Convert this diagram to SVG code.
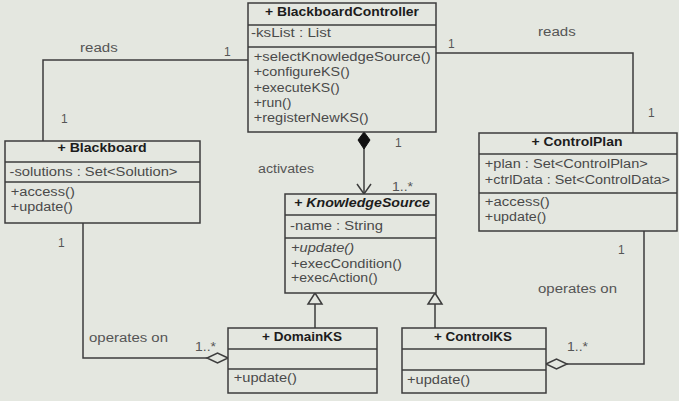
<svg xmlns="http://www.w3.org/2000/svg" width="679" height="401" viewBox="0 0 679 401">
<style>
  .box{fill:#e4e7e0;stroke:#3c3c3c;stroke-width:1.5}
  .sep{stroke:#3c3c3c;stroke-width:1.5}
  text{font-family:"Liberation Sans",Arial,sans-serif;font-size:12px;fill:#4a4a4a}
  .hd{font-weight:bold;fill:#1c1c1c;text-anchor:middle}
  .it{font-style:italic}
  .lbl{fill:#555}
  .con{fill:none;stroke:#3c3c3c;stroke-width:1.5}
</style>
<rect x="0" y="0" width="679" height="401" fill="#e4e7e0"/>

<g id="connectors">
  <!-- reads left -->
  <polyline class="con" points="248,60 43,60 43,141"/>
  <!-- reads right -->
  <polyline class="con" points="436,53 633,53 633,133"/>
  <!-- composition activates -->
  <line class="con" x1="364" y1="148" x2="364" y2="194"/>
  <polygon points="364,132 370,140 364,149 358,140" fill="#111" stroke="#111" stroke-width="1"/>
  <polyline class="con" points="357,184 364,194 371,184"/>
  <!-- generalizations -->
  <line class="con" x1="315" y1="304" x2="315" y2="328"/>
  <polygon class="con" points="315,293 322,304 308,304"/>
  <line class="con" x1="435" y1="304" x2="435" y2="328"/>
  <polygon class="con" points="435,293 442,304 428,304"/>
  <!-- Blackboard operates on DomainKS -->
  <polyline class="con" points="83,223 83,358 207,358"/>
  <polygon class="con" points="228,358 217.5,353 207,358 217.5,363"/>
  <!-- ControlPlan operates on ControlKS -->
  <polyline class="con" points="644,231 644,364 567,364"/>
  <polygon class="con" points="546,364 556.5,359 567,364 556.5,369"/>
  <!-- labels -->
  <text class="lbl" x="80" y="52" textLength="37.7" lengthAdjust="spacingAndGlyphs">reads</text>
  <text class="lbl" x="538" y="36" textLength="37.7" lengthAdjust="spacingAndGlyphs">reads</text>
  <text class="lbl" x="258" y="173" textLength="56" lengthAdjust="spacingAndGlyphs">activates</text>
  <text class="lbl" x="89" y="342" textLength="79" lengthAdjust="spacingAndGlyphs">operates on</text>
  <text class="lbl" x="538" y="293" textLength="79" lengthAdjust="spacingAndGlyphs">operates on</text>
  <text class="lbl" x="224" y="56">1</text>
  <text class="lbl" x="61" y="123">1</text>
  <text class="lbl" x="448" y="48">1</text>
  <text class="lbl" x="648" y="117">1</text>
  <text class="lbl" x="395" y="147">1</text>
  <text class="lbl" x="58" y="247">1</text>
  <text class="lbl" x="618" y="254">1</text>
  <text class="lbl" x="392" y="191" textLength="21" lengthAdjust="spacingAndGlyphs">1..*</text>
  <text class="lbl" x="195" y="351" textLength="21" lengthAdjust="spacingAndGlyphs">1..*</text>
  <text class="lbl" x="567" y="351" textLength="21" lengthAdjust="spacingAndGlyphs">1..*</text>
</g>

<g id="BlackboardController">
  <rect class="box" x="248" y="3" width="188" height="129"/>
  <line class="sep" x1="248" y1="25" x2="436" y2="25"/>
  <line class="sep" x1="248" y1="47" x2="436" y2="47"/>
  <text class="hd" x="342" y="16" textLength="154" lengthAdjust="spacingAndGlyphs">+ BlackboardController</text>
  <text x="251" y="37" textLength="80" lengthAdjust="spacingAndGlyphs">-ksList : List</text>
  <text x="253.7" y="61" textLength="177" lengthAdjust="spacingAndGlyphs">+selectKnowledgeSource()</text>
  <text x="253.7" y="76" textLength="96" lengthAdjust="spacingAndGlyphs">+configureKS()</text>
  <text x="253.7" y="92" textLength="86" lengthAdjust="spacingAndGlyphs">+executeKS()</text>
  <text x="253.7" y="107" textLength="37.7" lengthAdjust="spacingAndGlyphs">+run()</text>
  <text x="253.7" y="122" textLength="115" lengthAdjust="spacingAndGlyphs">+registerNewKS()</text>
</g>

<g id="Blackboard">
  <rect class="box" x="5" y="141" width="195" height="82"/>
  <line class="sep" x1="5" y1="162" x2="200" y2="162"/>
  <line class="sep" x1="5" y1="182" x2="200" y2="182"/>
  <text class="hd" x="102" y="152" textLength="89" lengthAdjust="spacingAndGlyphs">+ Blackboard</text>
  <text x="9.5" y="176" textLength="168" lengthAdjust="spacingAndGlyphs" fill="#666">-solutions : Set&lt;Solution&gt;</text>
  <text x="10.8" y="196" textLength="64" lengthAdjust="spacingAndGlyphs">+access()</text>
  <text x="10.8" y="211" textLength="62" lengthAdjust="spacingAndGlyphs">+update()</text>
</g>

<g id="ControlPlan">
  <rect class="box" x="479" y="133" width="198" height="98"/>
  <line class="sep" x1="479" y1="154" x2="677" y2="154"/>
  <line class="sep" x1="479" y1="193" x2="677" y2="193"/>
  <text class="hd" x="577" y="146" textLength="91" lengthAdjust="spacingAndGlyphs">+ ControlPlan</text>
  <text x="484.8" y="168" textLength="163" lengthAdjust="spacingAndGlyphs">+plan : Set&lt;ControlPlan&gt;</text>
  <text x="484.8" y="184" textLength="185" lengthAdjust="spacingAndGlyphs">+ctrlData : Set&lt;ControlData&gt;</text>
  <text x="484.8" y="206" textLength="65" lengthAdjust="spacingAndGlyphs">+access()</text>
  <text x="484.8" y="221" textLength="61.5" lengthAdjust="spacingAndGlyphs">+update()</text>
</g>

<g id="KnowledgeSource">
  <rect class="box" x="285" y="194" width="151" height="99"/>
  <line class="sep" x1="285" y1="215" x2="436" y2="215"/>
  <line class="sep" x1="285" y1="238" x2="436" y2="238"/>
  <text class="hd it" x="362" y="207" textLength="136" lengthAdjust="spacingAndGlyphs">+ KnowledgeSource</text>
  <text x="290" y="230" textLength="93" lengthAdjust="spacingAndGlyphs" fill="#666">-name : String</text>
  <text class="it" x="291" y="252" textLength="63" lengthAdjust="spacingAndGlyphs">+update()</text>
  <text x="291" y="268" textLength="111" lengthAdjust="spacingAndGlyphs">+execCondition()</text>
  <text x="291" y="282" textLength="86.6" lengthAdjust="spacingAndGlyphs">+execAction()</text>
</g>

<g id="DomainKS">
  <rect class="box" x="228" y="328" width="149" height="65"/>
  <line class="sep" x1="228" y1="349" x2="377" y2="349"/>
  <line class="sep" x1="228" y1="369" x2="377" y2="369"/>
  <text class="hd" x="302" y="341" textLength="80" lengthAdjust="spacingAndGlyphs">+ DomainKS</text>
  <text x="233.8" y="382" textLength="63" lengthAdjust="spacingAndGlyphs">+update()</text>
</g>

<g id="ControlKS">
  <rect class="box" x="402" y="328" width="144" height="65"/>
  <line class="sep" x1="402" y1="349" x2="546" y2="349"/>
  <line class="sep" x1="402" y1="370" x2="546" y2="370"/>
  <text class="hd" x="473" y="341" textLength="78" lengthAdjust="spacingAndGlyphs">+ ControlKS</text>
  <text x="407" y="384" textLength="63" lengthAdjust="spacingAndGlyphs">+update()</text>
</g>
</svg>
